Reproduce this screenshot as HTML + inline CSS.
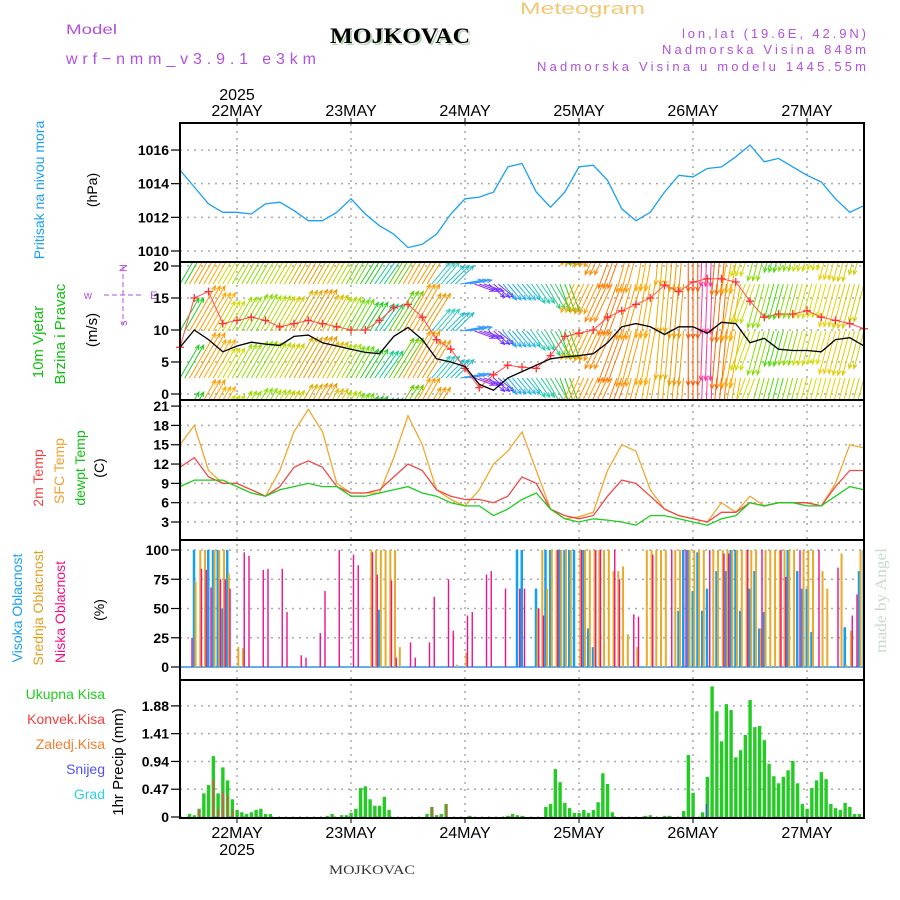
<!DOCTYPE html>
<html><head><meta charset="utf-8"><style>
html,body{margin:0;padding:0;background:#fff;}
svg{display:block;font-family:"Liberation Sans",sans-serif;}
</style></head><body>
<svg id="chart" xmlns="http://www.w3.org/2000/svg" width="900" height="900" viewBox="0 0 900 900">
<defs>
<clipPath id="clipWind"><rect x="181" y="263" width="682" height="136"/></clipPath>
<clipPath id="clipAll"><rect x="181" y="124" width="682" height="693"/></clipPath>
</defs>
<rect x="0" y="0" width="900" height="900" fill="#fff"/>
<text x="520" y="14" font-size="17" fill="#f0c878" textLength="125" lengthAdjust="spacingAndGlyphs">Meteogram</text>
<text x="66" y="34" font-size="14" fill="#b050e0" textLength="51" lengthAdjust="spacingAndGlyphs">Model</text>
<text x="66" y="64" font-size="16" fill="#b050e0" textLength="250" lengthAdjust="spacing">wrf−nmm_v3.9.1 e3km</text>
<text x="332" y="45" font-family="'Liberation Serif',serif" font-weight="bold" font-size="22" fill="#b8d8b8" textLength="140" lengthAdjust="spacingAndGlyphs">MOJKOVAC</text>
<text x="330" y="43" font-family="'Liberation Serif',serif" font-weight="bold" font-size="22" fill="#000" textLength="140" lengthAdjust="spacingAndGlyphs">MOJKOVAC</text>
<text x="682" y="38" font-size="13" fill="#b050e0" textLength="184" lengthAdjust="spacing">lon,lat (19.6E, 42.9N)</text>
<text x="662" y="54" font-size="13" fill="#b050e0" textLength="204" lengthAdjust="spacing">Nadmorska Visina 848m</text>
<text x="537" y="71" font-size="13" fill="#b050e0" textLength="329" lengthAdjust="spacing">Nadmorska Visina u modelu 1445.55m</text>
<text x="237" y="100" font-size="16" text-anchor="middle" fill="#000">2025</text>
<text x="237" y="855" font-size="16" text-anchor="middle" fill="#000">2025</text>
<text x="372" y="874" font-family="'Liberation Serif',serif" font-size="13" text-anchor="middle" fill="#333" textLength="86" lengthAdjust="spacingAndGlyphs">MOJKOVAC</text>
<text transform="translate(886,653) rotate(-90)" font-family="'Liberation Serif',serif" font-size="16" fill="#c8dac8" textLength="105" lengthAdjust="spacingAndGlyphs">made by Angel</text>
<text transform="translate(44,190) rotate(-90)" font-size="14" text-anchor="middle" fill="#1aa0f0">Pritisak na nivou mora</text>
<text transform="translate(97,190) rotate(-90)" font-size="14" text-anchor="middle" fill="#000">(hPa)</text>
<text transform="translate(43,342) rotate(-90)" font-size="15" text-anchor="middle" fill="#10c010">10m Vjetar</text>
<text transform="translate(65,334) rotate(-90)" font-size="15" text-anchor="middle" fill="#10c010">Brzina i Pravac</text>
<text transform="translate(97,330) rotate(-90)" font-size="15" text-anchor="middle" fill="#000">(m/s)</text>
<g fill="#b050e0" stroke="#b050e0" font-size="11">
<text x="84" y="299" stroke="none">w</text>
<text x="150" y="299" stroke="none">E</text>
<line x1="104" y1="295" x2="142" y2="295" stroke-dasharray="5,3"/>
<line x1="123" y1="266" x2="123" y2="324" stroke-dasharray="5,3"/>
<text transform="translate(127,326) rotate(-90)" stroke="none">s</text>
<text transform="translate(127,272) rotate(-90)" stroke="none">N</text>
</g>
<text transform="translate(43,478) rotate(-90)" font-size="14" text-anchor="middle" fill="#f04040">2m Temp</text>
<text transform="translate(64,471) rotate(-90)" font-size="14" text-anchor="middle" fill="#f0a030">SFC Temp</text>
<text transform="translate(85,468) rotate(-90)" font-size="14" text-anchor="middle" fill="#10c010">dewpt Temp</text>
<text transform="translate(104,468) rotate(-90)" font-size="14" text-anchor="middle" fill="#000">(C)</text>
<text transform="translate(22,608) rotate(-90)" font-size="14" text-anchor="middle" fill="#1aa0f0">Visoka Oblacnost</text>
<text transform="translate(43,608) rotate(-90)" font-size="14" text-anchor="middle" fill="#e0a020">Srednja Oblacnost</text>
<text transform="translate(65,612) rotate(-90)" font-size="14" text-anchor="middle" fill="#f01080">Niska Oblacnost</text>
<text transform="translate(104,610) rotate(-90)" font-size="14" text-anchor="middle" fill="#000">(%)</text>
<g font-size="14" text-anchor="end">
<text x="105" y="699" fill="#22cc22">Ukupna Kisa</text>
<text x="105" y="724" fill="#f04040">Konvek.Kisa</text>
<text x="105" y="749" fill="#f08030">Zaledj.Kisa</text>
<text x="105" y="774" fill="#5050f0">Snijeg</text>
<text x="105" y="799" fill="#30d0e0">Grad</text>
</g>
<text transform="translate(123,762) rotate(-90)" font-size="15" text-anchor="middle" fill="#000">1hr Precip (mm)</text>
<g id="grid"></g>
<g id="marks"></g>
<g id="axes"></g>
</svg>
<script>
const dayLabels = ["22MAY","23MAY","24MAY","25MAY","26MAY","27MAY"];
const pressure = [1014.8,1013.8,1012.8,1012.3,1012.3,1012.2,1012.8,1012.9,1012.4,1011.8,1011.8,1012.3,1013.1,1012.2,1011.5,1011,1010.2,1010.4,1011,1012.2,1013.1,1013.2,1013.5,1015,1015.2,1013.5,1012.6,1013.5,1015,1015.1,1014.2,1012.5,1011.8,1012.3,1013.5,1014.5,1014.4,1014.9,1015,1015.6,1016.3,1015.3,1015.5,1015,1014.5,1014.1,1013.1,1012.3,1012.7];
const windSpeed = [7.3,10,8.5,6.6,7.5,8.1,7.8,7.6,9,9.2,8,7.5,7,6.5,6.3,9,10.4,8.5,5.5,5,4.3,1.5,0.6,2.5,3.5,4.5,5.5,5.8,6,6.3,8,10.5,11,10.5,9.3,10.5,10.5,9.5,11.2,11,8,8.7,7,6.8,6.8,6.6,8.5,8.8,7.5];
const windGust = [7.3,15,16,11,11.5,12,11.5,10.5,11,11.5,11,10.5,10,10,11.5,13.5,14,12,8.5,7,4,1,3,4.5,4.2,4,6,9,9.5,10,12,13,14,15,17,16,17.5,18,18,17.5,14.5,12,12.5,12.5,13,12,11.5,11,10.2];
const windAngle = [60,60,60,60,60,60,60,60,60,60,60,60,60,58,55,58,60,58,50,45,10,-20,-40,-50,-50,-55,-60,-70,-115,-115,-115,-110,-105,-100,-95,-95,-90,-92,-95,-100,-110,-105,-105,-105,-105,-105,-105,-105,-105];
const windColor = ["#22cc22","#ff9900","#ffaa00","#ccdd00","#99dd00","#88dd00","#aadd00","#cccc00","#ddaa00","#ee9900","#ddbb00","#aadd00","#66dd00","#22cc22","#11cc88","#66cc00","#ff9900","#ee9900","#33ccbb","#22bbcc","#3399ff","#8833ff","#6633ff","#22aaee","#22bbdd","#22ccaa","#33cc77","#22cc22","#ffaa00","#ff9900","#ff8800","#ff7700","#ff9900","#ffaa00","#eeaa00","#ee9900","#ff5500","#ff3399","#ff6600","#ffaa00","#ccdd00","#88dd00","#44dd00","#88dd00","#ccdd00","#dddd00","#eecc00","#ddcc00","#cccc00"];
const tempSfc = [15,18,11,9,9,8,7,11,17,20.5,17,9,7.5,7.5,7.5,13,19.5,15,8,6.5,5.5,8,12,14,17,11,5,3.5,3.8,4.5,11,15,14,8,5,4,3.5,3,6,4.5,7,5.5,6,6,6,5.5,9,15,14.5];
const temp2m = [11.5,13,10,9,9,8,7,8.5,11.5,12.5,11.5,8.5,7.5,7.5,8,10,12,11,8,7,6.5,6.5,6,7,10,9,5,4,3.5,4,7,9.5,9,7,5,4,3.5,3,4.5,4.5,6,5.5,6,6,6,5.5,8.5,11,11];
const dewpt = [8.5,9.5,9.5,9.5,8.5,7.5,7,8,8.5,9,8.5,8.5,7,7,7.5,8,8.5,7.5,7,6,5.5,5.5,4,5,6.5,7.5,5,3.5,3,3.5,3.3,3,2.5,4,4,3.5,3,2.5,3.5,4,6,5.5,6,6,5.5,5.5,7,8.5,8];
const cloudHighHours = [3,6,7,8,9,10,42,71,72,75,77,78,80,81,82,83,85,86,87,105,106,107,108,109,110,111,113,115,116,117,118,120,121,122,123,128,130,131,132,133,140,143,144];
const cloudHighVals  = [100,100,100,100,50,100,49,100,100,67,100,100,100,100,100,100,100,33,17,48,100,100,65,98,48,67,82,82,100,100,48,67,82,33,47,100,82,67,67,30,34,82,100];
const cloudMidHours = [3,4,5,7,8,9,10,12,13,40,41,42,43,44,45,46,58,60,75,76,77,78,79,80,81,82,84,85,86,87,88,89,90,91,92,93,94,96,98,99,100,101,102,104,105,107,108,109,110,112,113,114,115,116,117,118,119,120,121,122,123,124,125,126,127,128,129,131,132,133,135,136,139,140,141,143];
const cloudMidVals  = [73,100,100,100,100,100,80,17,16,100,100,100,100,100,100,17,2,12,50,100,67,100,100,100,100,100,100,100,100,100,100,100,100,82,82,86,28,17,100,100,100,100,100,100,100,100,100,100,100,100,100,100,100,100,100,100,100,100,100,33,100,100,100,100,100,100,100,100,100,100,82,67,97,2,31,100];
const cloudLowHours = [2,4,5,6,8,9,10,13,14,17,18,21,22,25,26,29,30,33,36,37,40,41,44,45,48,49,52,53,56,57,60,61,64,65,68,71,72,75,76,79,84,87,88,91,92,95,96,99,103,106,111,114,115,119,122,126,127,130,134,138,141,142];
const cloudLowVals  = [25,84,83,68,75,75,67,98,95,83,84,84,47,10,8,29,65,100,96,87,98,79,74,8,21,8,21,60,75,31,44,47,79,82,67,67,67,50,44,100,100,100,100,100,75,45,43,96,100,100,100,97,97,100,100,100,77,100,100,85,44,62];
const precipHours = [2,3,4,5,6,7,8,9,10,11,12,13,14,15,16,17,18,19,31,32,34,35,36,37,38,39,40,41,42,43,44,52,53,54,55,56,61,69,70,71,72,77,78,79,80,81,82,83,84,85,86,87,88,89,90,91,98,99,102,103,106,107,108,110,111,112,113,114,115,116,117,118,119,120,121,122,123,124,125,126,127,128,129,130,131,132,133,134,135,136,137,138,139,140,141,142,143];
const precipVals  = [0.05,0.03,0.14,0.4,0.54,1.03,0.4,0.84,0.62,0.3,0.12,0.08,0.05,0.08,0.12,0.14,0.05,0.05,0.02,0.05,0.03,0.03,0.07,0.14,0.49,0.52,0.3,0.19,0.19,0.34,0.12,0.05,0.17,0.03,0.05,0.22,0.02,0.02,0.05,0.03,0.02,0.17,0.22,0.81,0.59,0.24,0.15,0.07,0.07,0.12,0.07,0.12,0.25,0.74,0.56,0.08,0.02,0.03,0.02,0.02,0.1,1.05,0.41,0.08,0.68,2.21,1.79,1.28,1.91,1.81,1.01,1.13,1.39,1.98,1.52,1.54,1.3,0.9,0.69,0.57,0.68,0.79,0.95,0.57,0.22,0.14,0.49,0.62,0.76,0.64,0.22,0.15,0.12,0.24,0.17,0.05,0.05];
const convHours = [4,7,8,9,10,11,53,54,56];
const convVals  = [0.13,0.63,0.13,0.43,0.36,0.13,0.17,0.03,0.22];
const snowHours = [111];
const snowVals  = [0.22];
const pressTicks = [1010,1012,1014,1016];
const windTicks = [0,5,10,15,20];
const tempTicks = [3,6,9,12,15,18,21];
const cloudTicks = [0,25,50,75,100];
const precipTicks = [0,0.47,0.94,1.41,1.88];

const L=180,R=864;
const xH = h => L + h*4.75;
const xI = i => xH(i*3);
const yP = p => 251 - (p-1010)*16.83;
const yW = s => 394 - s*6.4;
const yT = t => 522 - (t-3)*6.44;
const yC = c => 667 - c*1.17;
const yR = v => 817 - v*59.1;
const panels = [[123,262],[262,400],[400,540],[540,680],[680,818]];
const NS="http://www.w3.org/2000/svg";
function mk(tag, attrs, parent){const e=document.createElementNS(NS,tag);for(const k in attrs)e.setAttribute(k,attrs[k]);parent.appendChild(e);return e;}
const grid=document.getElementById('grid'), marks=document.getElementById('marks'), axes=document.getElementById('axes');

dayLabels.forEach((d,k)=>{
  const x=xH(12+24*k);
  const g=mk('line',{x1:x,y1:124,x2:x,y2:817,stroke:'#aaa','stroke-width':1.5,'stroke-dasharray':'2,5'},grid);
  
  
  const t1=mk('text',{x:x,y:116,'font-size':16,'text-anchor':'middle',fill:'#000'},axes);
  t1.textContent=d;
  
  
  const t2=mk('text',{x:x,y:838,'font-size':16,'text-anchor':'middle',fill:'#000'},axes);
  t2.textContent=d;
  
  
  mk('line',{x1:x,y1:118,x2:x,y2:123,stroke:'#000'},axes);
  mk('line',{x1:x,y1:818,x2:x,y2:823,stroke:'#000'},axes);
});
function yaxis(ticks, yf, fmt, name){
  ticks.forEach(v=>{
    const y=yf(v);
    mk('line',{x1:L,y1:y,x2:R,y2:y,stroke:'#aaa','stroke-width':1.5,'stroke-dasharray':'2,5'},grid);
    mk('line',{x1:171,y1:y,x2:L,y2:y,stroke:'#000','stroke-width':1.2},axes);
    const t=mk('text',{x:169,y:y+5,'font-size':14,'text-anchor':'end',fill:'#000','font-weight':'bold'},axes);
    t.textContent=fmt(v);
    
    
  });
}
yaxis(pressTicks,yP,v=>v,'pressure-tick');
yaxis(windTicks,yW,v=>v,'wind-tick');
yaxis(tempTicks,yT,v=>v,'temp-tick');
yaxis(cloudTicks,yC,v=>v,'cloud-tick');
yaxis(precipTicks,yR,v=>v===0?'0':v.toFixed(2),'precip-tick');

function line(arr, yf, color, name, w){
  const d=arr.map((v,i)=>(i?'L':'M')+xI(i).toFixed(1)+','+yf(v).toFixed(1)).join(' ');
  const p=mk('path',{d:d,fill:'none',stroke:color,'stroke-width':w||1.3,'clip-path':'url(#clipAll)'},marks);
  
  
}
line(pressure,yP,'#1aa0f0','pressure-line');

const wg=mk('g',{'clip-path':'url(#clipWind)'},marks);


const bands=[237,284,331,378,425];
for(let h=0;h<=144;h++){
  const i=Math.min(48,Math.round(h/3));
  const a=windAngle[i]*Math.PI/180, len=Math.max(windSpeed[i],4)*5.2;
  const dx=Math.cos(a)*len, dy=-Math.sin(a)*len;
  const x0=xH(h);
  bands.forEach(b=>{
    const x1=x0+dx,y1=b+dy;
    const ha=Math.atan2(-dy,-dx);
    const h1x=x1+5*Math.cos(ha+0.4),h1y=y1+5*Math.sin(ha+0.4);
    const h2x=x1+5*Math.cos(ha-0.4),h2y=y1+5*Math.sin(ha-0.4);
    mk('path',{d:`M${x0},${b} L${x1},${y1} M${h1x},${h1y} L${x1},${y1} L${h2x},${h2y}`,stroke:windColor[i],'stroke-width':1,fill:'none'},wg);
  });
}
line(windGust,yW,'#ff5050','wind-gust-line',1);
windGust.forEach((v,i)=>{
  const x=xI(i),y=yW(v);
  const p=mk('path',{d:`M${x-4},${y} H${x+4} M${x},${y-4} V${y+4}`,stroke:'#ff3030','stroke-width':1.3},marks);
  
  
});
line(windSpeed,yW,'#000','wind-speed-line',1.3);

line(tempSfc,yT,'#f0a830','sfc-temp-line');
line(temp2m,yT,'#f04848','temp-2m-line');
line(dewpt,yT,'#20cc20','dewpoint-line');

mk('line',{x1:L,y1:yC(0),x2:R,y2:yC(0),stroke:'#60b0f0','stroke-width':2},marks);
function bars(hours, vals, yf, color, off, w, name){
  hours.forEach((h,k)=>{
    const y=yf(vals[k]), y0=yf(0);
    const r=mk('rect',{x:xH(h)+off,y:y,width:w,height:Math.max(0,y0-y),fill:color},marks);
    
    
  });
}
bars(cloudHighHours,cloudHighVals,yC,'#10a0f8',-1.5,2.5,'cloud-high-bar');
bars(cloudMidHours,cloudMidVals,yC,'#e8aa28',0.3,2,'cloud-mid-bar');
bars(cloudLowHours,cloudLowVals,yC,'#f0108a',1.8,1.4,'cloud-low-bar');

bars(precipHours,precipVals,yR,'#22cc22',-1.6,3.4,'precip-total-bar');
bars(convHours,convVals,yR,'#f04848',-0.4,1.4,'precip-convective-bar');
bars(snowHours,snowVals,yR,'#4050f0',-1.6,1.4,'precip-snow-bar');

panels.forEach((p,k)=>{
  const r=mk('rect',{x:L,y:p[0],width:R-L,height:p[1]-p[0],fill:'none',stroke:'#000','stroke-width':2},axes);
  
  
});
</script>
</body></html>
